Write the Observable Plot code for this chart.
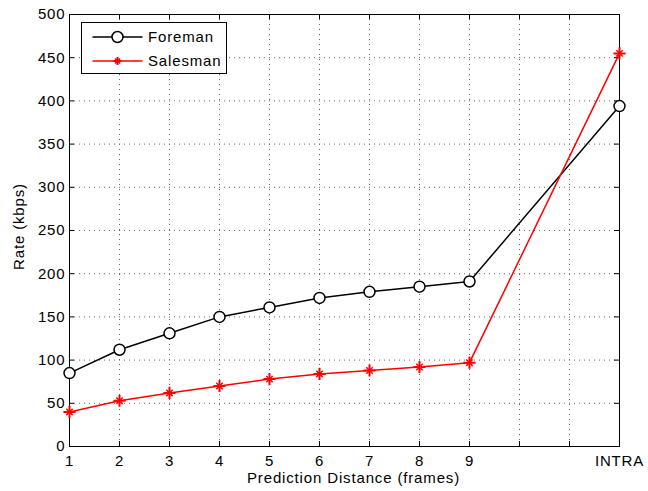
<!DOCTYPE html>
<html>
<head>
<meta charset="utf-8">
<script src="https://cdn.jsdelivr.net/npm/d3@7"></script>
<script src="https://cdn.jsdelivr.net/npm/@observablehq/plot@0.6"></script>
<style>
  html, body { margin: 0; padding: 0; background: #fff; }
  #wrap { position: relative; width: 648px; height: 491px; font-family: "Liberation Sans", Arial, sans-serif; }
  #wrap svg text { letter-spacing: 0.85px; }
  #legend { position: absolute; left: 81px; top: 22px; width: 146px; height: 52px; border: 1px solid #000; background: #fff; box-sizing: border-box; }
  #legend svg { position: absolute; left: 0; top: 0; }
</style>
</head>
<body>
<div id="wrap"></div>
<script>
// Data
const xPositions = [1, 2, 3, 4, 5, 6, 7, 8, 9, 12];
const xTickValues = [1, 2, 3, 4, 5, 6, 7, 8, 9, 10, 11, 12];
const xTickLabels = ["1", "2", "3", "4", "5", "6", "7", "8", "9", "", "", "INTRA"];
const yTickValues = [0, 50, 100, 150, 200, 250, 300, 350, 400, 450, 500];
const foreman = [85, 112, 131, 150, 161, 172, 179, 185, 191, 394];
const salesman = [40, 53, 62, 70, 78, 84, 88, 92, 97, 455];
const seriesNames = ["Foreman", "Salesman"];
const seriesColors = ["#000000", "#ff0000"];
const xTitle = "Prediction Distance (frames)";
const yTitle = "Rate (kbps)";

const fData = xPositions.map((x, i) => ({x, y: foreman[i]}));
const sData = xPositions.map((x, i) => ({x, y: salesman[i]}));
const labelMap = new Map(xTickValues.map((v, i) => [v, xTickLabels[i]]));

const xMin = 1, xMax = 12, yMin = 0, yMax = 500;
const gridX = xTickValues.filter(v => v > xMin && v < xMax);
const gridY = yTickValues.filter(v => v > yMin && v < yMax);
// tick length in data units (~5px)
const tx = (xMax - xMin) * 5 / 550;
const ty = (yMax - yMin) * 5 / 432;

const plot = Plot.plot({
  width: 648,
  height: 491,
  marginLeft: 69,
  marginRight: 29,
  marginTop: 14,
  marginBottom: 45,
  style: {fontFamily: "Liberation Sans, Arial, sans-serif", fontSize: "15px", color: "#000", background: "#fff"},
  x: {domain: [xMin, xMax]},
  y: {domain: [yMin, yMax]},
  marks: [
    Plot.ruleX(gridX, {stroke: "#666", strokeDasharray: "1,4", strokeWidth: 1}),
    Plot.ruleY(gridY, {stroke: "#666", strokeDasharray: "1,4", strokeWidth: 1}),
    // inward tick marks
    Plot.ruleX(xTickValues, {y1: yMin, y2: yMin + ty, stroke: "#000"}),
    Plot.ruleX(xTickValues, {y1: yMax - ty, y2: yMax, stroke: "#000"}),
    Plot.ruleY(yTickValues, {x1: xMin, x2: xMin + tx, stroke: "#000"}),
    Plot.ruleY(yTickValues, {x1: xMax - tx, x2: xMax, stroke: "#000"}),
    Plot.frame({stroke: "#000", strokeWidth: 1}),
    Plot.axisX(xTickValues, {tickSize: 0, tickPadding: 9, tickFormat: d => labelMap.get(d), label: null, fontSize: 15}),
    Plot.axisY(yTickValues, {tickSize: 0, tickPadding: 4, label: null, fontSize: 15}),
    Plot.text([xTitle], {text: d => d, frameAnchor: "bottom", textAnchor: "middle", lineAnchor: "middle", dy: 31.5, dx: 9, fontSize: 15, fill: "#000"}),
    Plot.text([yTitle], {text: d => d, frameAnchor: "left", textAnchor: "middle", lineAnchor: "middle", rotate: -90, dx: -50, dy: -4, fontSize: 15, fill: "#000"}),
    Plot.line(fData, {x: "x", y: "y", stroke: seriesColors[0], strokeWidth: 1.5}),
    Plot.line(sData, {x: "x", y: "y", stroke: seriesColors[1], strokeWidth: 1.5}),
    Plot.dot(fData, {x: "x", y: "y", r: 5.5, stroke: seriesColors[0], fill: "white", strokeWidth: 1.5}),
    Plot.dot(sData, {x: "x", y: "y", r: 4, symbol: "plus", stroke: seriesColors[1], strokeWidth: 2}),
    Plot.dot(sData, {x: "x", y: "y", r: 3, symbol: "times", stroke: seriesColors[1], strokeWidth: 1.5})
  ]
});

const wrap = document.getElementById("wrap");
wrap.appendChild(plot);

// Legend
const legend = document.createElement("div");
legend.id = "legend";
const lw = 146, lh = 52;
const svg = d3.create("svg").attr("width", lw).attr("height", lh);
seriesNames.forEach((name, i) => {
  const cy = 14 + i * 24;
  svg.append("line").attr("x1", 10.5).attr("x2", 60.5).attr("y1", cy).attr("y2", cy)
    .attr("stroke", seriesColors[i]).attr("stroke-width", 1.5);
  if (i === 0) {
    svg.append("circle").attr("cx", 35.5).attr("cy", cy).attr("r", 5.5)
      .attr("stroke", seriesColors[i]).attr("fill", "white").attr("stroke-width", 1.5);
  } else {
    svg.append("path").attr("d", `M31.5,${cy}h8M35.5,${cy-4}v8`).attr("stroke", seriesColors[i]).attr("stroke-width", 2);
    svg.append("path").attr("d", `M33,${cy-2.5}l5,5M38,${cy-2.5}l-5,5`).attr("stroke", seriesColors[i]).attr("stroke-width", 1.5);
  }
  svg.append("text").attr("x", 66).attr("y", cy).attr("dy", "0.35em")
    .attr("font-family", "Liberation Sans, Arial, sans-serif").attr("font-size", 15)
    .attr("fill", "#000").text(name);
});
legend.appendChild(svg.node());
wrap.appendChild(legend);
</script>
</body>
</html>
